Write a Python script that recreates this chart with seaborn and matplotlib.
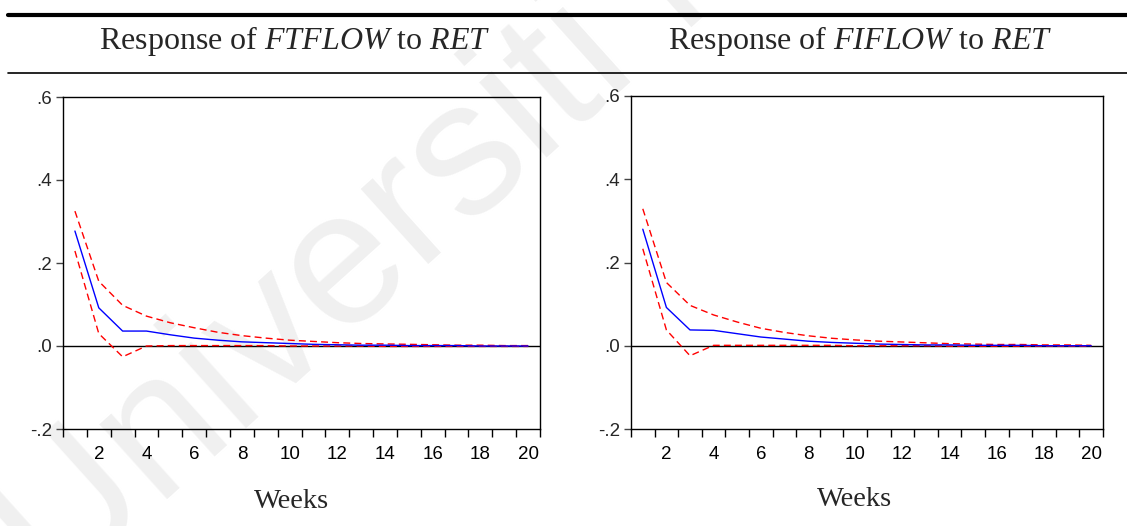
import numpy as np
import pandas as pd
import seaborn as sns
import matplotlib
matplotlib.use("Agg")
import matplotlib.pyplot as plt
from matplotlib.lines import Line2D
from matplotlib.ticker import FixedLocator

# ---------------- data ----------------
weeks = list(range(1, 21))

ft_resp = [0.277, 0.092, 0.036, 0.036, 0.027, 0.019, 0.014, 0.010, 0.008, 0.006,
           0.004, 0.003, 0.002, 0.002, 0.001, 0.001, 0.001, 0.000, 0.000, 0.000]
ft_upper = [0.325, 0.156, 0.098, 0.072, 0.056, 0.044, 0.033, 0.025, 0.019, 0.014,
            0.011, 0.008, 0.006, 0.005, 0.004, 0.003, 0.002, 0.002, 0.001, 0.001]
ft_lower = [0.229, 0.030, -0.026, 0.000, 0.001, 0.001, 0.001, 0.001, 0.001, 0.000,
            0.000, 0.000, 0.000, -0.001, -0.001, -0.001, -0.001, -0.001, -0.001, -0.001]

fi_resp = [0.280, 0.092, 0.038, 0.037, 0.029, 0.021, 0.016, 0.011, 0.008, 0.006,
           0.004, 0.003, 0.002, 0.002, 0.001, 0.001, 0.001, 0.000, 0.000, 0.000]
fi_upper = [0.329, 0.152, 0.097, 0.074, 0.057, 0.042, 0.032, 0.024, 0.018, 0.014,
            0.011, 0.009, 0.007, 0.005, 0.004, 0.003, 0.003, 0.002, 0.002, 0.001]
fi_lower = [0.233, 0.038, -0.024, 0.001, 0.001, 0.001, 0.001, 0.001, 0.001, 0.000,
            0.000, 0.000, 0.000, -0.001, -0.001, -0.001, -0.001, -0.001, -0.001, -0.001]

titles = [r"Response of $\mathit{FTFLOW}$ to $\mathit{RET}$",
          r"Response of $\mathit{FIFLOW}$ to $\mathit{RET}$"]
x_label = "Weeks"
y_ticks = [-0.2, 0.0, 0.2, 0.4, 0.6]
y_ticklabels = ["-.2", ".0", ".2", ".4", ".6"]
x_ticks = [2, 4, 6, 8, 10, 12, 14, 16, 18, 20]
watermark = "Universiti Malaya"

# ---------------- style ----------------
sns.set_theme(style="white")
plt.rcParams["font.family"] = ["Liberation Sans", "DejaVu Sans"]
plt.rcParams["mathtext.fontset"] = "custom"
plt.rcParams["mathtext.rm"] = "Liberation Serif"
plt.rcParams["mathtext.it"] = "Liberation Serif:italic"

W, H = 1127, 526
fig = plt.figure(figsize=(W / 100, H / 100), dpi=100)
fig.patch.set_facecolor("white")

# watermark (behind everything)
fig.text(55 / W, 1 - 600 / H, watermark, rotation=42, fontsize=138,
         color="#f0f0f0", family="Liberation Sans", ha="left", va="baseline",
         rotation_mode="anchor", zorder=-5)

# horizontal rules
fig.add_artist(Line2D([8 / W, 1.0], [1 - 14.5 / H] * 2, color="black", lw=3.0))
fig.add_artist(Line2D([8 / W, 1.0], [1 - 73 / H] * 2, color="black", lw=1.2))

panels = [
    dict(rect=[63 / W, 1 - 429 / H, 477 / W, 332 / H], resp=ft_resp, up=ft_upper,
         lo=ft_lower, tcx=295 / W, wcx=292 / W, wcy=1 - 502 / H),
    dict(rect=[631 / W, 1 - 429 / H, 472 / W, 333 / H], resp=fi_resp, up=fi_upper,
         lo=fi_lower, tcx=860 / W, wcx=855 / W, wcy=1 - 500 / H),
]

for i, p in enumerate(panels):
    ax = fig.add_axes(p["rect"])
    ax.set_facecolor("none")
    ax.axhline(0, color="black", lw=1.0, zorder=1)
    sns.lineplot(x=weeks, y=p["up"], ax=ax, color="#ff0000", lw=1.0,
                 linestyle=(0, (5, 3)), zorder=3)
    sns.lineplot(x=weeks, y=p["lo"], ax=ax, color="#ff0000", lw=1.0,
                 linestyle=(0, (5, 3)), zorder=3)
    sns.lineplot(x=weeks, y=p["resp"], ax=ax, color="#0000ff", lw=1.0, zorder=4)

    ax.set_xlim(0.5, 20.5)
    ax.set_ylim(-0.2, 0.6)
    ax.set_yticks(y_ticks)
    ax.set_yticklabels(y_ticklabels)
    ax.set_xticks(x_ticks)
    ax.set_xticklabels([str(v) for v in x_ticks])
    ax.xaxis.set_minor_locator(FixedLocator(np.arange(0.5, 21.0, 1.0)))
    ax.tick_params(axis="x", which="major", length=0, pad=12, labelsize=13.5,
                   colors="black")
    ax.tick_params(axis="x", which="minor", length=6, width=1.0, direction="out",
                   color="black", bottom=True)
    ax.tick_params(axis="y", which="major", length=5, width=1.0, direction="out",
                   color="#444444", labelsize=13.5, pad=3, left=True)
    for s in ax.spines.values():
        s.set_color("black")
        s.set_linewidth(1.0)
    ax.set_xlabel("")
    ax.set_ylabel("")

    fig.text(p["tcx"], 1 - 41 / H, titles[i], ha="center", va="center",
             fontsize=23, family="Liberation Serif")
    fig.text(p["wcx"], p["wcy"], x_label, ha="center", va="center",
             fontsize=20.5, family="Liberation Serif")

fig.savefig("out.png", dpi=100, facecolor="white")
